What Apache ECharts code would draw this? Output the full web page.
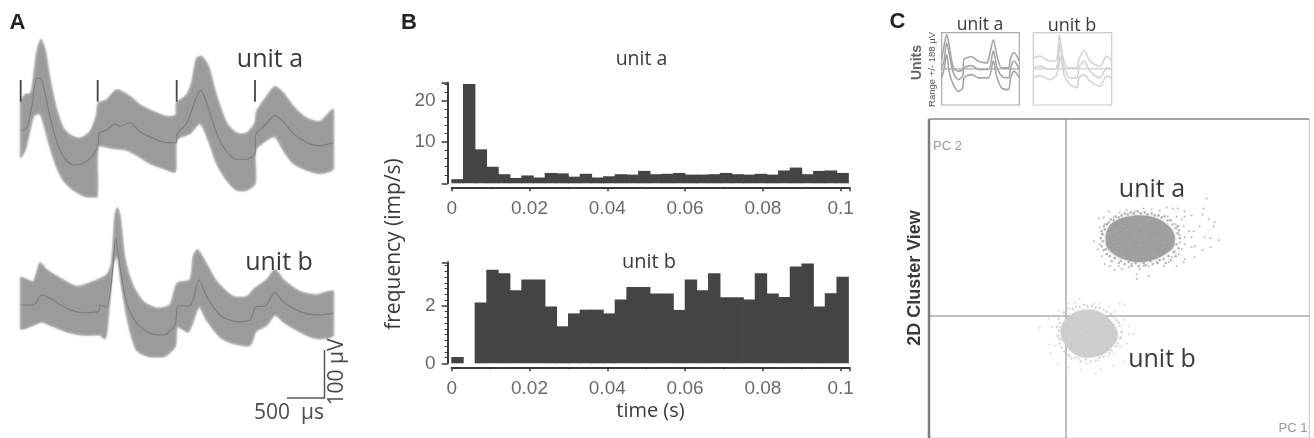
<!DOCTYPE html>
<html>
<head>
<meta charset="utf-8">
<style>html,body{margin:0;padding:0;background:#fff}#c{width:1314px;height:438px}</style>
<script src="https://cdn.jsdelivr.net/npm/echarts@6/dist/echarts.min.js"></script>
</head>
<body>
<div id="c"></div>
<script>
// Panel A: spike waveforms, [sample, amplitude] (141 amplitude units = 100 uV)
const unitAUpper = [[0,83],[13,108],[30,113],[38,153],[48,233],[61,273],[73,243],[88,153],[108,63],[128,8],[148,-12],[178,-22],[208,-2],[228,48],[233,83],[258,93],[288,123],[328,103],[358,78],[398,58],[438,43],[466,48],[468,83],[498,108],[513,143],[528,218],[543,223],[563,193],[588,103],[618,23],[648,-7],[678,-7],[703,23],[708,58],[738,103],[763,133],[788,113],[818,73],[858,38],[898,28],[938,63]];
const unitALower = [[0,-77],[13,-57],[28,3],[38,43],[53,53],[63,43],[88,-47],[108,-107],[128,-147],[158,-177],[198,-197],[228,-197],[233,-47],[278,-52],[318,-57],[348,-72],[388,-97],[428,-112],[463,-122],[468,-27],[508,-7],[538,23],[563,-27],[588,-97],[618,-147],[648,-177],[678,-177],[703,-157],[705,-57],[738,-27],[763,-17],[788,-57],[818,-97],[858,-117],[898,-127],[938,-112]];
const unitAMean = [[0,0],[18,8],[33,73],[48,158],[60,158],[73,113],[88,43],[108,-32],[128,-77],[158,-102],[188,-97],[218,-72],[233,-37],[235,-7],[258,3],[283,21],[298,15],[328,25],[358,-2],[398,-22],[438,-35],[466,-35],[470,-7],[498,23],[528,103],[541,123],[558,83],[588,-7],[618,-62],[648,-85],[678,-85],[703,-67],[705,-12],[733,18],[763,46],[788,28],[818,-7],[858,-34],[898,-44],[938,-35]];
const unitATriggers = [[0,153],[0,88],null,[231,153],[231,88],null,[468,153],[468,88],null,[703,153],[703,88]];
const unitBUpper = [[0,80],[38,70],[58,125],[78,105],[118,80],[168,55],[218,70],[258,90],[273,125],[283,265],[290,290],[298,265],[313,135],[338,55],[368,10],[408,-10],[448,0],[470,65],[508,75],[518,145],[530,165],[553,130],[588,70],[638,25],[678,25],[703,50],[738,75],[763,105],[788,75],[838,40],[888,30],[938,40]];
const unitBLower = [[0,-70],[38,-60],[63,-50],[88,-60],[138,-80],[188,-90],[238,-90],[253,-100],[260,-65],[278,125],[290,145],[300,75],[323,-55],[348,-135],[388,-155],[428,-155],[463,-125],[470,-65],[503,-80],[535,-5],[558,-45],[598,-95],[638,-115],[688,-120],[705,-80],[738,-60],[763,-30],[788,-50],[838,-80],[888,-100],[938,-90]];
const unitBMean = [[0,0],[38,0],[63,30],[88,20],[138,-10],[188,-23],[233,-20],[238,0],[258,-7],[273,75],[285,200],[298,115],[318,5],[348,-55],[388,-85],[428,-90],[463,-60],[472,-3],[508,-3],[535,75],[558,25],[598,-30],[648,-50],[688,-45],[705,-5],[733,-3],[763,38],[788,10],[838,-20],[888,-30],[938,-25]];

// Panel B: firing frequency per 3 ms bin
const binWidth = 0.003;
const histA = [1,24,8.2,4,2.2,1.3,1.9,1.4,2.5,2.4,1.6,2.3,1.4,1.7,2.2,2.1,3,2.2,2.3,2.5,2.1,2.1,2.2,2.5,2.2,2.1,2.3,2.1,3.1,3.8,2.2,3,3.1,2.5];
const histB = [0.22,0,2.12,3.26,3.14,2.55,2.92,2.92,1.98,1.29,1.74,1.87,1.87,1.74,2.22,2.66,2.66,2.43,2.43,1.86,2.92,2.55,3.14,2.3,2.3,2.22,3.14,2.43,2.31,3.37,3.48,1.98,2.44,3.02];

// Panel C: unit thumbnails, uV within +/-188
const thumbAUpper = [[0,49],[7,118],[15,179],[23,118],[35,5],[50,-12],[63,-3],[67,49],[90,63],[110,40],[135,31],[143,66],[155,150],[165,75],[180,5],[200,5],[207,57],[217,84],[233,40]];
const thumbAMean = [[0,5],[7,40],[15,136],[23,75],[35,-21],[50,-56],[63,-38],[67,5],[90,17],[110,-3],[140,-3],[155,92],[165,14],[180,-38],[200,-47],[207,5],[217,40],[233,-3]];
const thumbALower = [[0,-47],[7,-3],[15,75],[23,-21],[35,-82],[50,-117],[63,-99],[67,-47],[90,-30],[110,-47],[140,-47],[155,40],[165,-38],[180,-99],[200,-108],[207,-47],[217,-12],[233,-47]];
const thumbBUpper = [[0,57],[20,66],[50,40],[70,49],[78,179],[88,66],[105,5],[130,5],[137,49],[152,97],[170,40],[200,14],[220,66],[235,40]];
const thumbBMean = [[0,5],[20,14],[50,-3],[70,5],[80,136],[90,23],[110,-47],[130,-47],[137,5],[152,40],[170,-12],[200,-47],[220,5],[235,-3]];
const thumbBLower = [[0,-47],[20,-35],[50,-56],[70,-30],[82,66],[92,-30],[110,-82],[130,-99],[137,-47],[152,-30],[170,-64],[200,-90],[220,-38],[235,-47]];

// Panel C: PC1/PC2 cluster view
const coreA = [[40,79],[43,89],[51,96],[63,100],[76,101],[91,98],[103,90],[109,80],[108,70],[99,62],[86,56],[73,54],[58,57],[46,64],[41,70]];
const strayA = [[43,105],[48,99],[38,99],[33,98],[54,104],[61,106],[69,105],[78,108],[86,107],[94,106],[101,109],[107,108],[112,108],[119,105],[102,100],[111,100],[116,97],[119,100],[126,101],[110,92],[118,90],[123,85],[128,85],[114,81],[119,79],[126,79],[134,90],[141,118],[138,108],[137,102],[143,97],[149,94],[148,90],[139,79],[145,78],[153,76],[145,69],[137,66],[129,70],[126,69],[119,72],[116,67],[113,62],[119,57],[129,59],[111,50],[118,54],[103,54],[98,50],[91,54],[83,50],[74,47],[71,42],[83,40],[71,37],[63,49],[56,47],[49,46],[44,50],[39,52],[36,60],[32,67],[34,72],[28,75],[36,82],[34,89],[39,92],[53,50],[66,52],[78,50],[106,59],[109,65],[114,74]];
const rimA = [[112,83],[114,78],[111,72],[113,68],[108,64],[110,60],[103,60],[105,56],[98,57],[100,53],[92,53],[94,56],[87,52],[85,55],[80,51],[78,53],[73,50],[70,53],[66,50],[63,54],[59,52],[55,55],[53,53],[49,58],[46,55],[44,60],[41,62],[38,66],[40,67],[36,70],[37,75],[35,78],[37,82],[36,85],[39,87],[38,90],[41,92],[43,94],[45,97],[48,96],[50,100],[53,99],[56,101],[59,103],[62,102],[65,104],[68,103],[72,105],[75,103],[79,104],[82,102],[86,103],[89,101],[93,101],[96,99],[99,100],[102,96],[105,96],[107,92],[110,88],[112,90],[113,86]];
const speckA = [[50,85],[58,90],[66,94],[74,92],[82,95],[92,88],[100,82],[104,74],[96,68],[88,62],[78,60],[68,60],[56,66],[48,74],[46,82],[60,78],[70,82],[80,78],[88,76],[64,70],[74,70],[84,68],[54,80],[92,78],[72,76],[62,86],[84,86],[96,92],[52,70],[98,74]];
const coreB = [[-5,-18],[-3,-8],[4,0],[14,5],[25,6],[35,3],[44,-4],[50,-12],[52,-20],[48,-29],[40,-37],[30,-41],[20,-42],[10,-39],[1,-31]];
const strayB = [[14,17],[9,13],[3,12],[1,7],[-7,5],[21,11],[28,12],[34,12],[43,9],[49,4],[54,12],[59,11],[52,-5],[58,-4],[63,-10],[56,-16],[63,-18],[68,-18],[54,-23],[61,-28],[53,-31],[48,-38],[43,-41],[33,-45],[21,-48],[13,-43],[4,-41],[-2,-36],[-11,-30],[-16,-29],[-7,-23],[-14,-11],[-17,-3],[-26,-12],[-6,-11],[46,2],[56,-31],[-8,-49],[3,-52],[15,-54],[35,-54],[48,-50],[58,-46],[-15,-38],[30,-58]];
const rimB = [[54,-10],[56,-16],[55,-22],[52,-28],[50,-31],[46,-35],[44,-38],[38,-41],[34,-42],[30,-45],[25,-46],[20,-44],[15,-46],[10,-42],[6,-43],[3,-39],[-1,-36],[-4,-32],[-6,-28],[-5,-24],[-8,-20],[-7,-15],[-9,-11],[-6,-7],[-7,-3],[-4,0],[-2,3],[1,4],[3,7],[7,7],[10,9],[14,9],[18,11],[22,9],[26,10],[30,8],[34,8],[38,6],[41,4],[45,2],[48,-1],[50,-4],[53,-7]];
const speckB = [[6,-8],[14,-2],[24,0],[34,-4],[42,-12],[44,-22],[34,-30],[24,-36],[12,-32],[4,-24],[0,-14],[16,-16],[26,-14],[20,-26],[34,-18],[10,-14]];

const SANS = 'Open Sans';
const ARIAL = 'Liberation Sans';
const chart = echarts.init(document.getElementById('c'), null, {renderer: 'canvas'});

function polygonSeries(idx, points, style, z, smooth) {
  return {
    type: 'custom', coordinateSystem: 'cartesian2d', xAxisIndex: idx, yAxisIndex: idx,
    data: [0], silent: true, clip: false, z: z || 2,
    renderItem: (p, api) => {
      const pts = points.map(pt => api.coord(pt));
      const xs = pts.map(q => q[0]), ys = pts.map(q => q[1]);
      return {
        type: 'polygon',
        shape: {points: pts, smooth: smooth || 0,
          smoothConstraint: [[Math.min(...xs), Math.min(...ys)], [Math.max(...xs), Math.max(...ys)]]},
        style: style
      };
    }
  };
}
function bandSeries(idx, upper, lower) {
  return polygonSeries(idx, upper.concat(lower.slice().reverse()),
    {fill: '#9b9b9b', stroke: 'rgba(170,170,170,0.5)', lineWidth: 2, shadowBlur: 2, shadowColor: '#bdbdbd'}, 2, 0.25);
}
function lineSeries(idx, data, color, width, smooth) {
  return {type: 'line', xAxisIndex: idx, yAxisIndex: idx, data: data, symbol: 'none', silent: true, z: 3,
    connectNulls: false, smooth: smooth || false, lineStyle: {color: color, width: width}};
}
function dots(data, color, size) {
  return {type: 'scatter', xAxisIndex: 6, yAxisIndex: 6, data: data, symbol: 'circle', symbolSize: size, silent: true, itemStyle: {color: color}, z: 4};
}
function hiddenX(min, max) { return {type: 'value', min: min, max: max, show: false}; }
function hiddenY(min, max) { return {type: 'value', min: min, max: max, show: false}; }
function histX(showName) {
  return {
    type: 'value', min: 0, max: 0.1022, interval: 0.02, offset: 4,
    axisLine: {show: true, onZero: false, lineStyle: {color: '#3a3a3a', width: 2}},
    axisTick: {show: true, length: 4, lineStyle: {color: '#3a3a3a', width: 1.5}},
    minorTick: {show: true, splitNumber: 2, length: 2, lineStyle: {color: '#3a3a3a', width: 1.5}},
    splitLine: {show: false}, minorSplitLine: {show: false},
    axisLabel: {show: true, showMaxLabel: false, color: '#6a6a6a', fontFamily: ARIAL, fontSize: 19, margin: 12, formatter: v => String(+v.toFixed(2))},
    name: showName ? 'time (s)' : '', nameLocation: 'middle', nameGap: 34,
    nameTextStyle: {color: '#3a3a3a', fontFamily: SANS, fontSize: 20}
  };
}
function histY(max, interval, minor, showZero) {
  return {
    type: 'value', min: 0, max: max, interval: interval, offset: 4,
    axisLine: {show: true, onZero: false, lineStyle: {color: '#3a3a3a', width: 2}},
    axisTick: {show: true, length: 6, lineStyle: {color: '#3a3a3a', width: 1.5}},
    minorTick: {show: true, splitNumber: minor, length: 3, lineStyle: {color: '#3a3a3a', width: 1}},
    splitLine: {show: false}, minorSplitLine: {show: false},
    axisLabel: {show: true, showMaxLabel: false, showMinLabel: showZero, color: '#6a6a6a', fontFamily: ARIAL, fontSize: 19, margin: 12, padding: [4, 0, 0, 0]}
  };
}
function histSeries(idx, values) {
  return {
    type: 'bar', xAxisIndex: idx, yAxisIndex: idx, barWidth: 12.4, silent: true,
    itemStyle: {color: '#444444'},
    data: values.map((v, i) => [(i + 0.5) * binWidth, v])
  };
}
function txt(text, x, y, size, o) {
  o = o || {};
  return {
    type: 'text', x: x, y: y, rotation: o.rot || 0, z: 20, silent: true,
    style: {text: text, fill: o.color || '#3a3a3a', font: (o.weight ? o.weight + ' ' : '') + size + 'px "' + (o.font || SANS) + '"',
      textAlign: o.align || 'center', textVerticalAlign: 'middle'}
  };
}
function seg(x1, y1, x2, y2, color, width) {
  return {type: 'line', z: 15, silent: true, shape: {x1, y1, x2, y2}, style: {stroke: color, lineWidth: width}};
}
const ROT = Math.PI / 2;

chart.setOption({
  animation: false,
  backgroundColor: '#fff',
  grid: [
    {left: 20.67, top: 40, width: 312.67, height: 160},
    {left: 20.67, top: 208.33, width: 312.67, height: 150},
    {left: 451.67, top: 82.7, width: 397.6, height: 100.6},
    {left: 451.67, top: 262.3, width: 397.6, height: 101},
    {left: 941.7, top: 32.7, width: 77.6, height: 72.3, show: true, borderColor: '#aaaaaa', borderWidth: 1.2, backgroundColor: 'transparent'},
    {left: 1033.3, top: 32.7, width: 78.4, height: 72.3, show: true, borderColor: '#cccccc', borderWidth: 1.2, backgroundColor: 'transparent'},
    {left: 929, top: 119, width: 380.3, height: 321, show: true, borderColor: '#c4c4c4', borderWidth: 1, backgroundColor: 'transparent'}
  ],
  xAxis: [
    hiddenX(0, 938), hiddenX(0, 938),
    histX(false), histX(true),
    hiddenX(0, 233), hiddenX(0, 235),
    {type: 'value', min: -136.7, max: 243.6, axisLabel: {show: false}, axisTick: {show: false}, splitLine: {show: false},
      axisLine: {show: true, onZero: true, lineStyle: {color: '#aaaaaa', width: 1.5}}}
  ].map((a, i) => Object.assign(a, {gridIndex: i})),
  yAxis: [
    hiddenY(-207, 273), hiddenY(-160, 290),
    histY(24.3, 10, 5, false), histY(3.52, 2, 10, true),
    hiddenY(-188, 188), hiddenY(-188, 188),
    {type: 'value', min: -123, max: 198, axisLabel: {show: false}, axisTick: {show: false}, splitLine: {show: false},
      axisLine: {show: true, onZero: true, lineStyle: {color: '#aaaaaa', width: 1.5}}}
  ].map((a, i) => Object.assign(a, {gridIndex: i})),
  series: [
    bandSeries(0, unitAUpper, unitALower),
    lineSeries(0, unitAMean, '#7f7f7f', 1.2, 0.25),
    Object.assign(lineSeries(0, unitATriggers, '#444444', 1.8), {clip: false}),
    bandSeries(1, unitBUpper, unitBLower),
    lineSeries(1, unitBMean, '#7f7f7f', 1.2, 0.25),
    histSeries(2, histA),
    histSeries(3, histB),
    lineSeries(4, [[0,0],[233,0]], '#a8a8a8', 1.2),
    lineSeries(4, thumbAUpper, '#a6a6a6', 1.6, 0.3),
    lineSeries(4, thumbAMean, '#a6a6a6', 1.6, 0.3),
    lineSeries(4, thumbALower, '#a6a6a6', 1.6, 0.3),
    lineSeries(5, [[0,0],[235,0]], '#cdcdcd', 1.2),
    lineSeries(5, thumbBUpper, '#d3d3d3', 1.6, 0.3),
    lineSeries(5, thumbBMean, '#d3d3d3', 1.6, 0.3),
    lineSeries(5, thumbBLower, '#d3d3d3', 1.6, 0.3),
    polygonSeries(6, coreA, {fill: '#9f9f9f', shadowBlur: 3, shadowColor: '#a8a8a8'}, 3, 0.4),
    dots(rimA, '#a2a2a2', 2.6),
    dots(strayA, '#a8a8a8', 2),
    dots(speckA, '#b4b4b4', 1.6),
    polygonSeries(6, coreB, {fill: '#cdcdcd', shadowBlur: 3, shadowColor: '#d4d4d4'}, 3, 0.4),
    dots(rimB, '#cdcdcd', 2.6),
    dots(strayB, '#d0d0d0', 2),
    dots(speckB, '#dcdcdc', 1.6)
  ],
  graphic: {elements: [
    seg(929, 119, 929, 438, '#7c7c7c', 2.5),
    seg(929, 119, 1309, 119, '#8e8e8e', 1.5),
    seg(287, 398, 325, 398, '#555555', 1.5),
    seg(324.5, 350, 324.5, 398, '#555555', 1.5),
    txt('A', 17.5, 23, 22, {font: ARIAL, weight: 'bold', color: '#222'}),
    txt('B', 409, 23, 22, {font: ARIAL, weight: 'bold', color: '#222'}),
    txt('C', 897.5, 22, 22, {font: ARIAL, weight: 'bold', color: '#222'}),
    txt('unit a', 270, 60, 25),
    txt('unit b', 279, 263, 25),
    txt('500\u00a0\u00a0\u00b5s', 289, 413, 21, {color: '#4a4a4a'}),
    txt('100\u00a0\u00b5V', 337, 372, 21, {rot: ROT, color: '#4a4a4a'}),
    txt('unit a', 641.5, 59.5, 19.5),
    txt('unit b', 649, 262, 20),
    txt('frequency (imp/s)', 394, 244, 21, {rot: ROT}),
    txt('unit a', 980, 25.5, 17.5),
    txt('unit b', 1072, 25.5, 18),
    txt('Units', 917, 62.5, 14, {rot: ROT, font: ARIAL, weight: 'bold', color: '#666'}),
    txt('Range +/- 188 \u00b5V', 932, 69.5, 9.5, {rot: ROT, font: ARIAL, color: '#555'}),
    txt('unit a', 1152, 189.5, 25),
    txt('unit b', 1162, 360, 25),
    txt('2D Cluster View', 915, 278, 18, {rot: ROT, font: ARIAL, weight: 'bold', color: '#3a3a3a'}),
    txt('PC 2', 947.5, 146, 13, {font: ARIAL, color: '#999'}),
    txt('PC 1', 1293, 428, 13, {font: ARIAL, color: '#999'})
  ]}
});
</script>
</body>
</html>
